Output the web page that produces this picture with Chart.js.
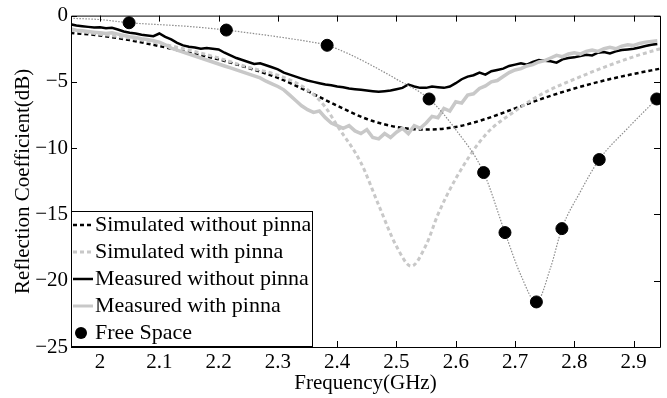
<!DOCTYPE html>
<html>
<head>
<meta charset="utf-8">
<script src="https://cdn.jsdelivr.net/npm/chart.js@4.4.1/dist/chart.umd.min.js"></script>
<style>
  html, body { margin: 0; padding: 0; background: #fff; }
  #wrap { width: 667px; height: 398px; }
</style>
</head>
<body>
<div id="wrap"><canvas id="c" width="667" height="398"></canvas></div>
<script>
// tick values and labels
const xTicks = [2, 2.1, 2.2, 2.3, 2.4, 2.5, 2.6, 2.7, 2.8, 2.9];
const xTickLabels = ['2', '2.1', '2.2', '2.3', '2.4', '2.5', '2.6', '2.7', '2.8', '2.9'];
const yTicks = [0, -5, -10, -15, -20, -25];
const yTickLabels = ['0', '\u22125', '\u221210', '\u221215', '\u221220', '\u221225'];

// simulated curves (GHz, dB)
const simNoPinnaFreq = [1.95, 2.0, 2.05, 2.1, 2.15, 2.2, 2.25, 2.3, 2.35, 2.4, 2.45, 2.5, 2.55, 2.6, 2.65, 2.7, 2.75, 2.8, 2.85, 2.9, 2.945];
const simNoPinna = [-1.3, -1.5, -1.85, -2.3, -2.8, -3.3, -3.95, -4.7, -5.7, -6.8, -7.8, -8.4, -8.6, -8.4, -7.8, -7.0, -6.2, -5.5, -4.9, -4.4, -4.0];

const simPinnaFreq = [1.95, 2.0, 2.05, 2.1, 2.15, 2.2, 2.25, 2.3, 2.35, 2.38, 2.4, 2.44, 2.47, 2.5, 2.525, 2.55, 2.57, 2.6, 2.65, 2.7, 2.75, 2.8, 2.85, 2.9, 2.945];
const simPinna = [-1.1, -1.4, -1.7, -2.1, -2.6, -3.2, -3.9, -4.5, -5.6, -6.9, -8.3, -11.1, -14.3, -17.4, -18.9, -17.3, -15.0, -12.3, -9.0, -7.2, -5.8, -4.8, -3.9, -3.1, -2.5];

// measured curves, 10 MHz steps
const measFreq = [1.95, 1.96, 1.97, 1.98, 1.99, 2.00, 2.01, 2.02, 2.03, 2.04,
  2.05, 2.06, 2.07, 2.08, 2.09, 2.10, 2.11, 2.12, 2.13, 2.14,
  2.15, 2.16, 2.17, 2.18, 2.19, 2.20, 2.21, 2.22, 2.23, 2.24,
  2.25, 2.26, 2.27, 2.28, 2.29, 2.30, 2.31, 2.32, 2.33, 2.34,
  2.35, 2.36, 2.37, 2.38, 2.39, 2.40, 2.41, 2.42, 2.43, 2.44,
  2.45, 2.46, 2.47, 2.48, 2.49, 2.50, 2.51, 2.52, 2.53, 2.54,
  2.55, 2.56, 2.57, 2.58, 2.59, 2.60, 2.61, 2.62, 2.63, 2.64,
  2.65, 2.66, 2.67, 2.68, 2.69, 2.70, 2.71, 2.72, 2.73, 2.74,
  2.75, 2.76, 2.77, 2.78, 2.79, 2.80, 2.81, 2.82, 2.83, 2.84,
  2.85, 2.86, 2.87, 2.88, 2.89, 2.90, 2.91, 2.92, 2.93, 2.94];
const measNoPinna = [-0.65, -0.75, -0.80, -0.85, -0.90, -0.88, -0.95, -0.92, -1.05, -1.20,
  -1.30, -1.35, -1.45, -1.50, -1.55, -1.35, -1.60, -1.80, -2.05, -2.25,
  -2.35, -2.40, -2.50, -2.45, -2.50, -2.55, -2.80, -3.00, -3.20, -3.35,
  -3.50, -3.65, -3.60, -3.75, -3.90, -4.05, -4.30, -4.45, -4.60, -4.75,
  -4.90, -5.00, -5.10, -5.20, -5.25, -5.35, -5.40, -5.50, -5.55, -5.60,
  -5.65, -5.70, -5.75, -5.70, -5.65, -5.55, -5.45, -5.20, -5.35, -5.45,
  -5.45, -5.35, -5.40, -5.45, -5.35, -5.10, -4.80, -4.60, -4.50, -4.30,
  -4.45, -4.20, -4.10, -4.00, -3.80, -3.70, -3.60, -3.70, -3.50, -3.35,
  -3.40, -3.45, -3.55, -3.30, -3.20, -3.15, -3.05, -2.95, -3.00, -2.80,
  -2.75, -2.85, -2.70, -2.60, -2.55, -2.50, -2.40, -2.30, -2.20, -2.15];
const measPinna = [-1.00, -1.10, -1.15, -1.20, -1.25, -1.30, -1.35, -1.30, -1.40, -1.50,
  -1.60, -1.65, -1.75, -1.80, -1.90, -2.00, -2.20, -2.45, -2.60, -2.75,
  -2.90, -3.05, -3.20, -3.35, -3.50, -3.65, -3.80, -3.95, -4.10, -4.25,
  -4.40, -4.55, -4.70, -4.95, -5.15, -5.35, -5.60, -6.00, -6.40, -6.80,
  -7.10, -7.30, -7.20, -7.70, -8.10, -8.30, -8.50, -8.30, -8.70, -8.90,
  -8.60, -9.20, -9.30, -8.90, -9.20, -8.80, -8.50, -8.90, -8.30, -8.50,
  -8.10, -7.60, -7.70, -7.00, -7.20, -6.50, -6.60, -6.00, -5.90, -5.50,
  -5.30, -5.00, -4.90, -4.60, -4.30, -4.10, -4.00, -3.80, -3.70, -3.50,
  -3.40, -3.20, -3.00, -3.10, -2.90, -2.80, -2.90, -2.70, -2.60, -2.70,
  -2.50, -2.40, -2.50, -2.30, -2.20, -2.25, -2.10, -2.00, -1.95, -1.90];

// free space: markers and the dotted curve through them
const fsFreq = [2.049, 2.213, 2.383, 2.555, 2.647, 2.683, 2.736, 2.779, 2.842, 2.939];
const fsVal = [-0.54, -1.09, -2.24, -6.29, -11.84, -16.37, -21.6, -16.07, -10.86, -6.29];
const fsCurveFreq = [1.95, 2.0, 2.049, 2.1, 2.15, 2.213, 2.25, 2.3, 2.35, 2.383, 2.42, 2.46, 2.5, 2.555, 2.6, 2.647, 2.683, 2.71, 2.736, 2.76, 2.779, 2.81, 2.842, 2.89, 2.939, 2.95];
const fsCurve = [-0.2, -0.3, -0.54, -0.68, -0.82, -1.09, -1.3, -1.6, -1.95, -2.24, -2.9, -3.8, -4.8, -6.29, -8.6, -11.84, -16.37, -19.6, -21.6, -19.0, -16.07, -13.3, -10.86, -8.5, -6.29, -5.8];

const pts = (xs, ys) => xs.map((x, i) => ({ x: x, y: ys[i] }));
const FONT = 'Liberation Serif, Times New Roman, serif';
const LIGHT = '#c8c8c8';

// frame with inward ticks on all four sides
const framePlugin = {
  id: 'frame',
  afterDatasetsDraw(chart) {
    const { ctx, chartArea: a, scales: { x, y } } = chart;
    ctx.save();
    ctx.strokeStyle = '#000';
    ctx.lineWidth = 1;
    ctx.beginPath();
    ctx.rect(a.left + 0.5, a.top + 0.5, a.right - a.left, a.bottom - a.top);
    xTicks.forEach(v => {
      const px = Math.round(x.getPixelForValue(v)) + 0.5;
      ctx.moveTo(px, a.top); ctx.lineTo(px, a.top + 6);
      ctx.moveTo(px, a.bottom); ctx.lineTo(px, a.bottom - 6);
    });
    yTicks.forEach(v => {
      const py = Math.round(y.getPixelForValue(v)) + 0.5;
      ctx.moveTo(a.left, py); ctx.lineTo(a.left + 6, py);
      ctx.moveTo(a.right, py); ctx.lineTo(a.right - 6, py);
    });
    ctx.stroke();
    ctx.restore();
  }
};

// boxed legend in the lower left of the plot
const legendPlugin = {
  id: 'boxLegend',
  afterDraw(chart) {
    const ctx = chart.ctx;
    const names = ['Simulated without pinna', 'Simulated with pinna', 'Measured without pinna', 'Measured with pinna', 'Free Space'];
    const ds = chart.data.datasets;
    const rows = [ds[5], ds[4], ds[3], ds[2], ds[0]];
    ctx.save();
    ctx.fillStyle = '#fff';
    ctx.fillRect(71, 211, 241, 135);
    ctx.strokeStyle = '#000';
    ctx.lineWidth = 1;
    ctx.strokeRect(71.5, 211.5, 241, 135);
    ctx.font = '22px ' + FONT;
    ctx.textBaseline = 'alphabetic';
    rows.forEach((d, i) => {
      const base = 231 + i * 27;
      const my = base - 6;
      if (i === 4) {
        ctx.fillStyle = '#000';
        ctx.beginPath();
        ctx.arc(81, my, 6, 0, Math.PI * 2);
        ctx.fill();
      } else {
        ctx.strokeStyle = d.borderColor;
        ctx.lineWidth = Math.min(d.borderWidth, 3);
        ctx.setLineDash(d.borderDash || []);
        ctx.beginPath();
        ctx.moveTo(73, my);
        ctx.lineTo(93, my);
        ctx.stroke();
        ctx.setLineDash([]);
      }
      ctx.fillStyle = '#000';
      ctx.fillText(names[i], 95, base);
    });
    ctx.restore();
  }
};

new Chart(document.getElementById('c'), {
  type: 'line',
  data: {
    datasets: [
      {
        label: 'Free Space',
        data: pts(fsFreq, fsVal),
        showLine: false,
        pointRadius: 6,
        pointBackgroundColor: '#000',
        pointBorderColor: '#000',
        borderColor: '#000',
        order: 0
      },
      {
        label: 'fs curve',
        data: pts(fsCurveFreq, fsCurve),
        borderColor: '#8c8c8c',
        borderWidth: 1.2,
        borderDash: [1.5, 1.5],
        pointRadius: 0,
        cubicInterpolationMode: 'monotone',
        order: 1
      },
      {
        label: 'Measured with pinna',
        data: pts(measFreq, measPinna),
        borderColor: LIGHT,
        borderWidth: 3.5,
        pointRadius: 0,
        order: 2
      },
      {
        label: 'Measured without pinna',
        data: pts(measFreq, measNoPinna),
        borderColor: '#000',
        borderWidth: 2.5,
        pointRadius: 0,
        order: 3
      },
      {
        label: 'Simulated with pinna',
        data: pts(simPinnaFreq, simPinna),
        borderColor: LIGHT,
        borderWidth: 3,
        borderDash: [4, 3],
        pointRadius: 0,
        cubicInterpolationMode: 'monotone',
        order: 4
      },
      {
        label: 'Simulated without pinna',
        data: pts(simNoPinnaFreq, simNoPinna),
        borderColor: '#000',
        borderWidth: 2.5,
        borderDash: [4, 3],
        pointRadius: 0,
        cubicInterpolationMode: 'monotone',
        order: 5
      }
    ]
  },
  options: {
    responsive: false,
    animation: false,
    layout: { padding: { top: 14, right: 0, left: 0, bottom: 0 } },
    plugins: { legend: { display: false }, tooltip: { enabled: false } },
    scales: {
      x: {
        type: 'linear',
        min: 1.951,
        max: 2.9445,
        grid: { display: false, drawTicks: false },
        border: { display: false },
        afterBuildTicks: s => { s.ticks = xTicks.map(v => ({ value: v })); },
        afterFit: s => { s.height = 51; },
        ticks: {
          autoSkip: false,
          maxRotation: 0,
          padding: 3,
          color: '#000',
          font: { family: FONT, size: 21 },
          callback: (v, i) => xTickLabels[i]
        },
        title: {
          display: true,
          text: 'Frequency(GHz)',
          color: '#000',
          font: { family: FONT, size: 21 },
          padding: { top: 0, bottom: 2 }
        }
      },
      y: {
        min: -25,
        max: 0,
        grid: { display: false, drawTicks: false },
        border: { display: false },
        afterBuildTicks: s => { s.ticks = yTicks.map(v => ({ value: v })); },
        afterFit: s => { s.width = 71; },
        ticks: {
          padding: 3,
          color: '#000',
          font: { family: FONT, size: 21 },
          callback: (v, i) => yTickLabels[i]
        },
        title: {
          display: true,
          text: 'Reflection Coefficient(dB)',
          color: '#000',
          font: { family: FONT, size: 21 },
          padding: { top: 11, bottom: 0 }
        }
      }
    }
  },
  plugins: [framePlugin, legendPlugin]
});
</script>
</body>
</html>
